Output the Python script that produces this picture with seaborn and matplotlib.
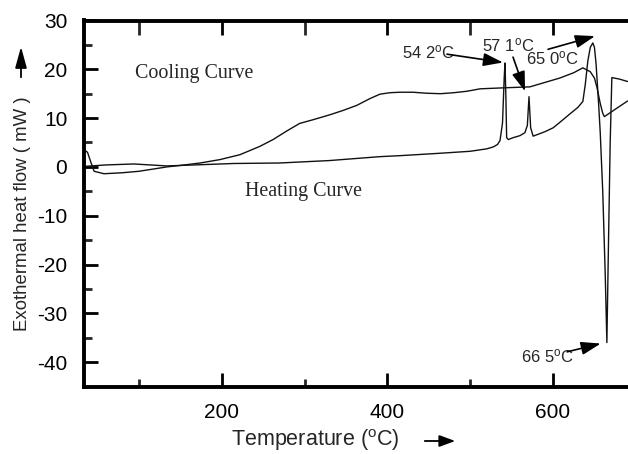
import numpy as np
import pandas as pd
import matplotlib
matplotlib.use("Agg")
import matplotlib.pyplot as plt
import seaborn as sns

# ---------------- data ----------------
heat_T = [34, 60, 94, 134, 215, 270, 330, 391, 415, 464, 500, 520, 528, 533, 536, 539,
          541, 542, 543, 544, 546, 552, 560, 566, 569, 571, 573, 576, 590, 600,
          608, 620, 630, 636, 639, 642, 645, 648, 650, 652, 655, 657, 660, 663,
          665, 667, 669, 671, 680, 690]
heat_V = [0.1, 0.4, 0.6, 0.2, 0.7, 0.8, 1.3, 2.1, 2.3, 2.8, 3.2, 3.7, 4.1, 4.6, 5.4, 9.0,
          18.0, 21.3, 15.0, 6.0, 5.6, 6.0, 6.4, 7.0, 8.5, 14.4, 8.0, 6.3, 7.2, 8.0,
          9.1, 10.8, 12.2, 13.4, 17.0, 21.7, 24.5, 25.4, 24.5, 21.0, 13.0, 7.0, -5.0, -22.0,
          -36.0, -15.0, 5.0, 18.3, 18.0, 17.5]

cool_T = [34, 38, 42, 46, 58, 80, 100, 134, 150, 174, 198, 222, 246, 262, 278, 294,
          311, 331, 347, 363, 379, 391, 403, 415, 431, 447, 464, 480, 496, 512,
          540, 572, 608, 625, 636, 645, 650, 653, 657, 660, 662, 675, 690]
cool_V = [3.5, 3.0, 1.0, -0.9, -1.4, -1.2, -0.9, 0.0, 0.3, 0.8, 1.5, 2.5, 4.2, 5.6, 7.3, 8.9,
          9.7, 10.7, 11.6, 12.6, 14.0, 14.9, 15.2, 15.3, 15.3, 15.1, 15.0, 15.2, 15.5, 16.0,
          16.2, 16.4, 18.2, 19.3, 20.3, 19.5, 18.2, 16.3, 13.0, 11.0, 10.3, 11.8, 13.5]

x_ticks = [200, 400, 600]
y_ticks = [-40, -30, -20, -10, 0, 10, 20, 30]

peak_labels = ["54 2$^{\\mathrm{o}}$C", "57 1$^{\\mathrm{o}}$C", "65 0$^{\\mathrm{o}}$C", "66 5$^{\\mathrm{o}}$C"]
peak_text_xy = [(418, 23.5), (514, 24.9), (567, 22.3), (561, -38.8)]
peak_tail = [(472, 23.1), (551.7, 22.5), (594, 24.1), (617, -37.9)]
peak_head = [(539.6, 21.4), (566.2, 15.5), (650.6, 26.8), (657.6, -36.2)]

# ---------------- style ----------------
sns.set_style("ticks")
plt.rcParams['font.family'] = ['Liberation Sans', 'DejaVu Sans']
plt.rcParams['mathtext.fontset'] = 'custom'
plt.rcParams['mathtext.rm'] = 'Liberation Sans'
plt.rcParams['mathtext.it'] = 'Liberation Sans:italic'
plt.rcParams['axes.unicode_minus'] = False

W, H = 628, 454
fig = plt.figure(figsize=(W / 100, H / 100), dpi=100)
ax = fig.add_axes([84 / W, 1 - 386.5 / H, (W - 84) / W, (386.5 - 20.5) / H])

heat = pd.DataFrame({"T": heat_T, "V": heat_V})
cool = pd.DataFrame({"T": cool_T, "V": cool_V})
sns.lineplot(data=heat, x="T", y="V", ax=ax, color="#111111", lw=1.0, sort=False, estimator=None)
sns.lineplot(data=cool, x="T", y="V", ax=ax, color="#111111", lw=1.0, sort=False, estimator=None)

ax.set_xlim(33.8, 690.5)
ax.set_ylim(-45, 30)
ax.set_xlabel("")
ax.set_ylabel("")

for s in ["left", "bottom", "top"]:
    ax.spines[s].set_linewidth(2.8)
    ax.spines[s].set_color("black")
ax.spines["right"].set_visible(False)

ax.set_xticks(x_ticks)
ax.set_xticks([100, 300, 500], minor=True)
ax.set_yticks(y_ticks)
ax.set_yticks([-35, -25, -15, -5, 5, 15, 25], minor=True)
ax.tick_params(axis="both", which="major", direction="in", length=10, width=2.0,
               labelsize=15, pad=12, colors="black")
ax.tick_params(axis="both", which="minor", direction="in", length=5.5, width=2.0)
ax.tick_params(axis="x", which="both", top=True, labeltop=False)
for t in ax.xaxis.get_minor_ticks():
    t.tick2line.set_markersize(10)
ax.tick_params(axis="y", which="both", right=False)

# curve labels
ax.text(95.3, 19.2, "Cooling Curve", family="Liberation Serif", fontsize=14.4,
        ha="left", va="center")
ax.text(228, -5.1, "Heating Curve", family="Liberation Serif", fontsize=14.4,
        ha="left", va="center")

# peak annotations
for lab, txy, tail, head in zip(peak_labels, peak_text_xy, peak_tail, peak_head):
    ax.text(txy[0], txy[1], lab, fontsize=12, ha="left", va="center")
    ax.annotate("", xy=head, xytext=tail,
                arrowprops=dict(arrowstyle="-|>,head_length=0.6,head_width=0.2",
                                mutation_scale=20, color="black", lw=1.2,
                                shrinkA=0, shrinkB=0))

# axis titles with arrows
fig.text(315 / W, 1 - 440 / H, "Temperature ($^{\\mathrm{o}}$C)", fontsize=15.5,
         ha="center", va="center")
fig.patches.append(matplotlib.patches.FancyArrowPatch(
    (422 / W, 1 - 441 / H), (458 / W, 1 - 441 / H), transform=fig.transFigure,
    arrowstyle="-|>,head_length=0.6,head_width=0.22", mutation_scale=16,
    color="black", lw=1.3))
fig.text(23 / W, 1 - 214 / H, "Exothermal heat flow ( mW )", fontsize=13.4,
         rotation=90, ha="center", va="center")
fig.patches.append(matplotlib.patches.FancyArrowPatch(
    (21 / W, 1 - 80 / H), (21 / W, 1 - 44 / H), transform=fig.transFigure,
    arrowstyle="-|>,head_length=0.8,head_width=0.22", mutation_scale=16,
    color="black", lw=1.3))

fig.savefig("out.png", dpi=100)
